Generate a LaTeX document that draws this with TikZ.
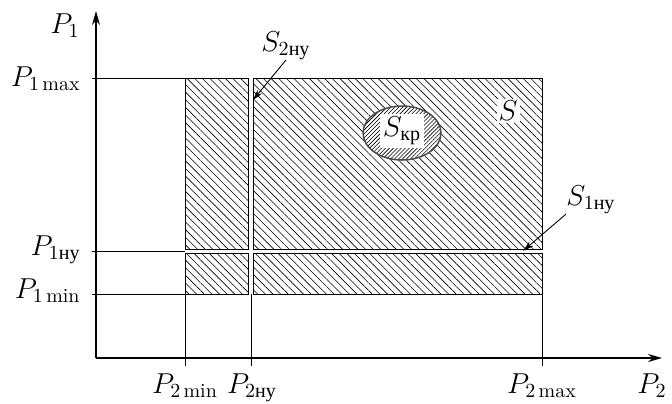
\documentclass[tikz,border=0pt]{standalone}
\usepackage{amsmath}
\usepackage{fontspec}
\newfontfamily\cyr{Liberation Serif}
\usetikzlibrary{arrows.meta,patterns.meta}

\begin{document}
\begin{tikzpicture}[x=0.5pt,y=-0.5pt,font=\Large]
    \tikzset{
      axis/.style={line width=0.65pt, -{Stealth[length=7pt,width=4pt]}},
      guide/.style={line width=0.4pt},
      hatch/.style={draw, line width=0.45pt, pattern={Lines[angle=-45,distance=2.7pt,line width=0.3pt]}},
      finehatch/.style={draw=black!70, line width=0.75pt, preaction={fill=white}, pattern={Lines[angle=45,distance=1.4pt,line width=0.3pt]}},
      lbl/.style={inner sep=0pt},
      callout/.style={line width=0.45pt, -{Stealth[length=5.5pt,width=3pt]}}
    }
    \useasboundingbox (0,0) rectangle (672,403);

    % Oси
    \coordinate (O) at (96,358);
    \coordinate (ytip) at (96,11);
    \coordinate (xtip) at (662,358);
    \draw[axis] (O) -- (ytip);
    \draw[axis] (O) -- (xtip);

    % Вспомогательные линии уровней
    \draw[guide] (92,78) -- (185,78);
    \draw[guide] (92,251.5) -- (185,251.5);
    \draw[guide] (92,294) -- (185,294);
    \draw[guide] (185,294) -- (185,366);
    \draw[guide] (251,294) -- (251,366);
    \draw[guide] (542,294) -- (542,366);

    % Область S, разрезанная полосами S_1ну и S_2ну
    \draw[hatch] (185,78) rectangle (248.5,249.5);
    \draw[hatch] (253.5,78) rectangle (542,249.5);
    \draw[hatch] (185,253.5) rectangle (248.5,294);
    \draw[hatch] (253.5,253.5) rectangle (542,294);

    % Критическая область S_кр
    \draw[finehatch] (402,133) ellipse [x radius=39, y radius=27];
    \node[fill=white, inner sep=1.5pt] (skr) at (402,131) {$S_{\text{\cyr кр}}$};
    \node[fill=white, inner sep=1pt] (sall) at (508,111) {$S$};

    % Выноски
    \node[lbl, anchor=base west] (s2lbl) at (261,51) {$S_{2\text{\cyr ну}}$};
    \coordinate (s2tip) at (253,100);
    \draw[callout] (s2lbl.south) -- (s2tip);
    \node[lbl, anchor=base west] (s1lbl) at (566,205) {$S_{1\text{\cyr ну}}$};
    \coordinate (s1tip) at (523,251);
    \draw[callout] (s1lbl.south west) -- (s1tip);

    % Подписи осей
    \node[lbl, anchor=base east] (p1) at (80,33) {$P_1$};
    \node[lbl, anchor=base east] (p1max) at (81,86) {$P_{1\max}$};
    \node[lbl, anchor=base east] (p1ny) at (81,255) {$P_{1\text{\cyr ну}}$};
    \node[lbl, anchor=base east] (p1min) at (81,298) {$P_{1\min}$};
    \node[lbl, anchor=base] (p2min) at (185,393) {$P_{2\min}$};
    \node[lbl, anchor=base] (p2ny) at (252,393) {$P_{2\text{\cyr ну}}$};
    \node[lbl, anchor=base] (p2max) at (542,393) {$P_{2\max}$};
    \node[lbl, anchor=base] (p2) at (652,393) {$P_2$};
\end{tikzpicture}
\end{document}
